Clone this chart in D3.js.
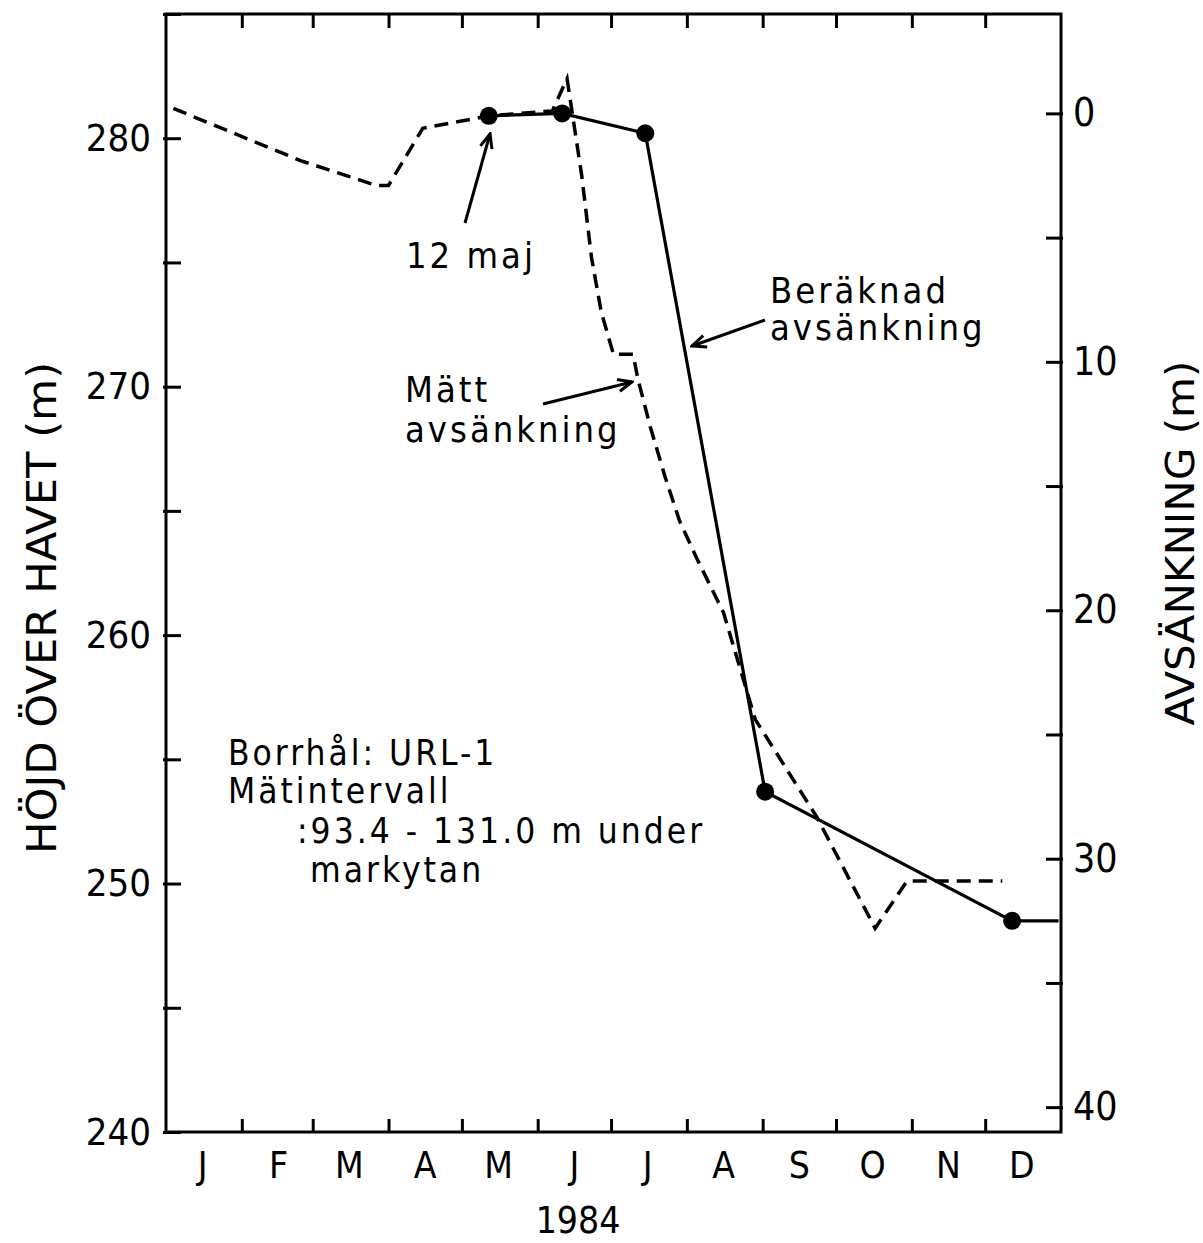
<!DOCTYPE html>
<html>
<head>
<meta charset="utf-8">
<script src="https://cdn.jsdelivr.net/npm/d3@7"></script>
<style>
body{margin:0;background:#fff}
text{font-family:"DejaVu Sans Condensed","DejaVu Sans",sans-serif;fill:#000}
</style>
</head>
<body>
<div id="chart"></div>
<script>
const months = ['J', 'F', 'M', 'A', 'M', 'J', 'J', 'A', 'S', 'O', 'N', 'D']
const yearLabel = '1984'

// uppmätt nivå (streckad)
const measuredDates = ['1984-01-04', '1984-02-25', '1984-03-27', '1984-04-01', '1984-04-15', '1984-05-12',
    '1984-06-07', '1984-06-13', '1984-06-19', '1984-06-23', '1984-06-27', '1984-07-02', '1984-07-10',
    '1984-07-12', '1984-07-17', '1984-07-23', '1984-07-29', '1984-08-05', '1984-08-16', '1984-08-29',
    '1984-09-23', '1984-10-17', '1984-10-30', '1984-12-08']
const measuredLevels = [281.2, 279.1, 278.1, 278.1, 280.4, 280.9,
    281.1, 282.4, 278.5, 275.2, 273.0, 271.3, 271.3,
    270.3, 268.4, 266.4, 264.6, 263.1, 260.9, 256.6,
    252.7, 248.2, 250.1, 250.1]

// beräknad nivå (heldragen), punkter markerade
const computedDates = ['1984-05-12', '1984-06-11', '1984-07-15', '1984-09-02', '1984-12-12', '1984-12-31']
const computedLevels = [280.9, 281.0, 280.2, 253.7, 248.5, 248.5]
const computedDots = [true, true, true, true, true, false]

const leftTicks = [240, 245, 250, 255, 260, 265, 270, 275, 280, 285]
const rightTicks = [0, 5, 10, 15, 20, 25, 30, 35, 40]
const groundLevel = 281

const infoLines = ['Borrhål: URL-1', 'Mätintervall', ':93.4 - 131.0 m under', 'markytan']

const W = 1203, H = 1243
const margin = {top: 14, right: 142, bottom: 111, left: 166}
const width = W - margin.left - margin.right
const height = H - margin.top - margin.bottom
const parse = d3.timeParse('%Y-%m-%d')

const svg = d3.select('#chart').append('svg')
    .attr('width', W)
    .attr('height', H)
svg.append('defs').append('marker')
    .attr('id', 'arrow')
    .attr('viewBox', '-16 -8 18 16')
    .attr('markerWidth', 18)
    .attr('markerHeight', 16)
    .attr('markerUnits', 'userSpaceOnUse')
    .attr('orient', 'auto')
    .append('path')
    .attr('d', 'M-14,-6 L0,0 L-14,6')
    .attr('fill', 'none')
    .attr('stroke', '#000')
    .attr('stroke-width', 3)

const g = svg.append('g').attr('transform', `translate(${margin.left},${margin.top})`)

const x = d3.scaleTime()
    .domain([parse('1984-01-01'), parse('1985-01-01')])
    .range([0, width])
const y = d3.scaleLinear().domain([240, 285]).range([height, 0])
const y2 = d3.scaleLinear().domain([groundLevel - 240, groundLevel - 285]).range([height, 0])

const monthStarts = d3.timeMonth.range(parse('1984-02-01'), parse('1984-12-02'))

// ram
g.append('rect')
    .attr('width', width)
    .attr('height', height)
    .attr('fill', 'none')
    .attr('stroke', '#000')
    .attr('stroke-width', 3)

// x-axel nere och uppe
const xAxis = d3.axisBottom(x).tickValues(monthStarts).tickSize(-13).tickFormat('')
g.append('g').attr('transform', `translate(0,${height})`).call(xAxis)
g.append('g').call(d3.axisTop(x).tickValues(monthStarts).tickSize(-14).tickFormat(''))
g.selectAll('.domain').remove()
g.selectAll('.tick line').attr('stroke-width', 3)

g.append('g').selectAll('text')
    .data(months)
    .join('text')
    .attr('x', (d, i) => x(d3.timeDay.offset(new Date(1984, i, 1), 15)))
    .attr('y', height + 46)
    .attr('text-anchor', 'middle')
    .attr('font-size', 37)
    .text(d => d)
svg.append('text')
    .attr('x', 578)
    .attr('y', H - 10)
    .attr('text-anchor', 'middle')
    .attr('font-size', 37)
    .text(yearLabel)

// vänster axel
const yAxis = d3.axisLeft(y).tickValues(leftTicks).tickSize(3)
    .tickFormat(d => d % 10 === 0 ? d : '')
const ya = g.append('g').call(yAxis)
ya.select('.domain').remove()
ya.selectAll('.tick line').attr('x1', 15).attr('x2', -3).attr('stroke-width', 3)
ya.selectAll('.tick text').attr('x', -15).attr('font-size', 38).attr('font-family', null)

// höger axel
const yAxis2 = d3.axisRight(y2).tickValues(rightTicks).tickSize(3)
    .tickFormat(d => d % 10 === 0 ? d : '')
const ya2 = g.append('g').attr('transform', `translate(${width},0)`).call(yAxis2)
ya2.select('.domain').remove()
ya2.selectAll('.tick line').attr('x1', -15).attr('x2', 2).attr('stroke-width', 3)
ya2.selectAll('.tick text').attr('x', 12).attr('font-size', 39).attr('font-family', null)

// axeltitlar
svg.append('text')
    .attr('transform', 'translate(56,608) rotate(-90)')
    .attr('text-anchor', 'middle')
    .attr('font-size', 40)
    .attr('textLength', 492)
    .attr('lengthAdjust', 'spacingAndGlyphs')
    .text('HÖJD ÖVER HAVET (m)')
svg.append('text')
    .attr('transform', 'translate(1194,543) rotate(-90)')
    .attr('text-anchor', 'middle')
    .attr('font-size', 39)
    .attr('textLength', 365)
    .attr('lengthAdjust', 'spacingAndGlyphs')
    .text('AVSÄNKNING (m)')

// linjer
const measured = measuredDates.map((d, i) => ({date: parse(d), value: measuredLevels[i]}))
const computed = computedDates.map((d, i) => ({date: parse(d), value: computedLevels[i], dot: computedDots[i]}))
const line = d3.line().x(d => x(d.date)).y(d => y(d.value))

g.append('path')
    .datum(measured)
    .attr('d', line)
    .attr('fill', 'none')
    .attr('stroke', '#000')
    .attr('stroke-width', 3.5)
    .attr('stroke-dasharray', '14,8')
g.append('path')
    .datum(computed)
    .attr('d', line)
    .attr('fill', 'none')
    .attr('stroke', '#000')
    .attr('stroke-width', 3.2)
g.selectAll('circle')
    .data(computed.filter(d => d.dot))
    .join('circle')
    .attr('cx', d => x(d.date))
    .attr('cy', d => y(d.value))
    .attr('r', 9)
    .attr('fill', '#000')

// anteckningar
const ann = svg.append('g').attr('font-size', 36).attr('letter-spacing', 3)
const arrow = (x1, y1, x2, y2) => ann.append('line')
    .attr('x1', x1).attr('y1', y1).attr('x2', x2).attr('y2', y2)
    .attr('stroke', '#000').attr('stroke-width', 3)
    .attr('marker-end', 'url(#arrow)')
ann.append('text').attr('x', 406).attr('y', 268).text('12 maj')
arrow(465, 223, 490, 134)
ann.append('text').attr('x', 770).attr('y', 303).text('Beräknad')
ann.append('text').attr('x', 770).attr('y', 340).text('avsänkning')
arrow(765, 320, 692, 346)
ann.append('text').attr('x', 405).attr('y', 402).text('Mätt')
ann.append('text').attr('x', 405).attr('y', 442).text('avsänkning')
arrow(543, 404, 632, 382)

const info = svg.append('g').attr('font-size', 35).attr('letter-spacing', 3)
const infoX = [228, 228, 297, 310]
const infoY = [765, 803, 843, 882]
info.selectAll('text')
    .data(infoLines)
    .join('text')
    .attr('x', (d, i) => infoX[i])
    .attr('y', (d, i) => infoY[i])
    .text(d => d)
</script>
</body>
</html>
